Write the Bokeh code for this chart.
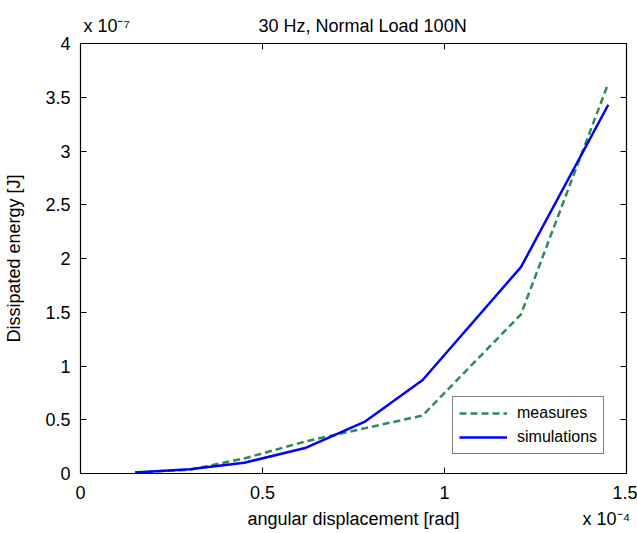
from bokeh.plotting import figure
from bokeh.models import Range1d, LinearAxis, FixedTicker, Legend, LegendItem
from bokeh.embed import file_html
from bokeh.resources import INLINE

# Data (x in units of 1e-4 rad, y in units of 1e-7 J)
angle_e4 = [0.15, 0.30, 0.45, 0.62, 0.78, 0.94, 1.21, 1.45]
measures_e7 = [0.01, 0.035, 0.14, 0.30, 0.42, 0.54, 1.48, 3.63]
simulations_e7 = [0.01, 0.04, 0.10, 0.24, 0.48, 0.87, 1.92, 3.43]

x_ticks = [0, 0.5, 1, 1.5]
x_tick_labels = ["0", "0.5", "1", "1.5"]
y_ticks = [0, 0.5, 1, 1.5, 2, 2.5, 3, 3.5, 4]
y_tick_labels = ["0", "0.5", "1", "1.5", "2", "2.5", "3", "3.5", "4"]

title_text = "30 Hz, Normal Load 100N"
x_label = "angular displacement [rad]"
y_label = "Dissipated energy [J]"
x_exponent = "x 10\u207b\u2074"
y_exponent = "x 10\u207b\u2077"

FONT = "Liberation Sans"
FS = "18px"

p = figure(width=637, height=533, output_backend="svg", toolbar_location=None,
           x_range=Range1d(0, 1.5), y_range=Range1d(0, 4),
           min_border_left=80, min_border_right=11, min_border_top=43, min_border_bottom=60)

p.xgrid.visible = False
p.ygrid.visible = False
p.outline_line_color = "black"
p.outline_line_width = 1.2
p.background_fill_color = "white"
p.border_fill_color = "white"

def style_axis(ax, ticks, labels, show_ticks=True):
    ax.ticker = FixedTicker(ticks=ticks)
    ax.major_label_overrides = {t: l for t, l in zip(ticks, labels)}
    ax.major_tick_in = 6 if show_ticks else 0
    ax.major_tick_out = 0
    ax.minor_tick_line_color = None
    ax.major_tick_line_color = "black" if show_ticks else None
    ax.axis_line_color = "black" if show_ticks else None
    ax.major_label_text_font = FONT
    ax.major_label_text_font_size = FS
    ax.major_label_text_color = "black"
    ax.axis_label_text_font = FONT
    ax.axis_label_text_font_size = FS
    ax.axis_label_text_font_style = "normal"
    ax.axis_label_text_color = "black"

# bottom axis: ticks + tick labels
style_axis(p.xaxis[0], x_ticks, x_tick_labels)
p.xaxis[0].major_label_standoff = 12

# second bottom row: axis label and exponent
xlab_ax = LinearAxis()
style_axis(xlab_ax, [0.75, 1.445], [x_label, x_exponent], show_ticks=False)
xlab_ax.major_label_standoff = 7
p.add_layout(xlab_ax, "below")

# left axis
style_axis(p.yaxis[0], y_ticks, y_tick_labels)
p.yaxis[0].axis_label = y_label
p.yaxis[0].major_label_standoff = 10
p.yaxis[0].axis_label_standoff = 18

# top: box ticks, then a row with exponent and title
top_ax = LinearAxis()
style_axis(top_ax, x_ticks, ["" for _ in x_ticks])
top_ax.major_label_standoff = 0
p.add_layout(top_ax, "above")
title_ax = LinearAxis()
style_axis(title_ax, [0.072, 0.775], [y_exponent, title_text], show_ticks=False)
title_ax.major_label_standoff = 8
p.add_layout(title_ax, "above")

# right: box ticks
right_ax = LinearAxis()
style_axis(right_ax, y_ticks, ["" for _ in y_ticks])
right_ax.major_label_standoff = 0
p.add_layout(right_ax, "right")

r_meas = p.line(angle_e4, measures_e7, line_color="#2E8B57", line_width=2.5, line_dash="7 4")
r_sim = p.line(angle_e4, simulations_e7, line_color="#0000FF", line_width=2.5)

legend = Legend(items=[LegendItem(label="measures", renderers=[r_meas]),
                       LegendItem(label="simulations", renderers=[r_sim])],
                location=(372, 19))
legend.label_text_font = FONT
legend.label_text_font_size = "16px"
legend.label_text_color = "black"
legend.border_line_color = "black"
legend.border_line_width = 1
legend.background_fill_alpha = 1
legend.glyph_width = 48
legend.glyph_height = 20
legend.label_height = 20
legend.label_standoff = 10
legend.spacing = 4
legend.padding = 6
legend.margin = 0
p.add_layout(legend, "center")

open("out.html", "w").write(file_html(p, INLINE))
